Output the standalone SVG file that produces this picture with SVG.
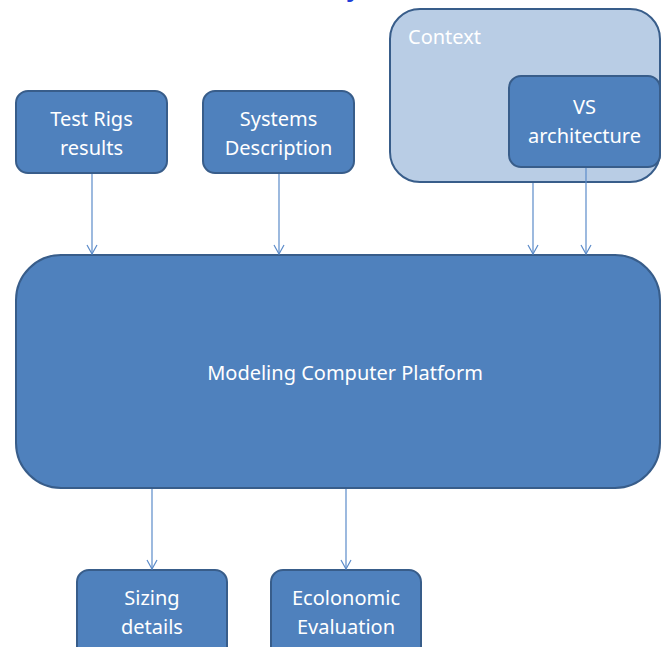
<svg xmlns="http://www.w3.org/2000/svg" width="661" height="647" viewBox="0 0 661 647">
<style>
.box{fill:#4f81bd;stroke:#385d8a;stroke-width:2}
.ctx{fill:#b9cde5;stroke:#385d8a;stroke-width:2}
.t{font-family:"Noto Sans","Open Sans",sans-serif;font-size:20px;fill:#ffffff;text-anchor:middle}
.c{stroke:#5b8bc9;stroke-width:1.2;fill:none}
</style>
<defs>
<marker id="arr" markerWidth="12" markerHeight="12" refX="10" refY="6" orient="auto" markerUnits="userSpaceOnUse">
<path d="M1,1 L10,6 L1,11" fill="none" stroke="#5b8bc9" stroke-width="1.2"/>
</marker>
</defs>
<rect width="661" height="647" fill="#ffffff"/>
<text x="346" y="-3" font-family="Liberation Sans,sans-serif" font-size="26" font-weight="bold" fill="#1f3fd8">y</text>
<g id="context">
<rect class="ctx" x="390" y="9" width="270" height="173" rx="30"/>
<text class="t" x="408" y="44" style="text-anchor:start">Context</text>
</g>
<g id="vs">
<rect class="box" x="509" y="76" width="151" height="91" rx="12"/>
<text class="t" x="584.5" y="114">VS</text>
<text class="t" x="584.5" y="143">architecture</text>
</g>
<g id="testrigs">
<rect class="box" x="16" y="91" width="151" height="82" rx="12"/>
<text class="t" x="91.5" y="126">Test Rigs</text>
<text class="t" x="91.5" y="155">results</text>
</g>
<g id="systems">
<rect class="box" x="203" y="91" width="151" height="82" rx="12"/>
<text class="t" x="278.5" y="126">Systems</text>
<text class="t" x="278.5" y="155">Description</text>
</g>
<g id="platform">
<rect class="box" x="16" y="255" width="644" height="233" rx="45"/>
<text class="t" x="345" y="380">Modeling Computer Platform</text>
</g>
<g id="sizing">
<rect class="box" x="77" y="570" width="150" height="90" rx="12"/>
<text class="t" x="152" y="605">Sizing</text>
<text class="t" x="152" y="634">details</text>
</g>
<g id="economic">
<rect class="box" x="271" y="570" width="150" height="90" rx="12"/>
<text class="t" x="346" y="605">Ecolonomic</text>
<text class="t" x="346" y="634">Evaluation</text>
</g>
<g id="connectors">
<line class="c" x1="92" y1="174" x2="92" y2="254" marker-end="url(#arr)"/>
<line class="c" x1="279" y1="174" x2="279" y2="254" marker-end="url(#arr)"/>
<line class="c" x1="533" y1="183" x2="533" y2="254" marker-end="url(#arr)"/>
<line class="c" x1="586" y1="168" x2="586" y2="254" marker-end="url(#arr)"/>
<line class="c" x1="152" y1="489" x2="152" y2="569" marker-end="url(#arr)"/>
<line class="c" x1="346" y1="489" x2="346" y2="569" marker-end="url(#arr)"/>
</g>
</svg>
